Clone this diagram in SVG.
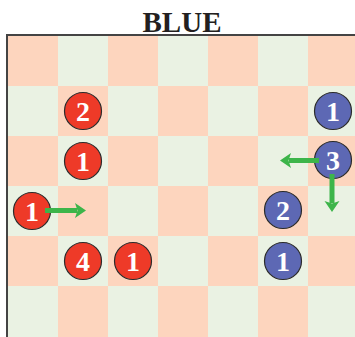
<svg xmlns="http://www.w3.org/2000/svg" width="355" height="337" viewBox="0 0 355 337">
<style>
.pe{fill:#FDD5BE}
.gr{fill:#EAF2E3}
.red{fill:#EE3A28;stroke:#2b2b2b;stroke-width:1.2}
.blue{fill:#5D68B4;stroke:#2b2b2b;stroke-width:1.2}
.num{font-family:"Liberation Serif","Times New Roman",serif;font-weight:bold;font-size:28px;fill:#fff;text-anchor:middle}
.title{font-family:"Liberation Serif","Times New Roman",serif;font-weight:bold;font-size:29px;fill:#231F20;text-anchor:middle}
.arr{stroke:#3DB54A;stroke-width:5;fill:none;marker-end:url(#ah)}
</style>
<defs>
<marker id="ah" markerUnits="userSpaceOnUse" markerWidth="12" markerHeight="16" viewBox="0 -8 12 16" refX="2" refY="0" orient="auto">
<path d="M0,-7.5 L11,0 L0,7.5 L2.5,0 z" fill="#3DB54A"/>
</marker>
</defs>
<rect width="355" height="337" fill="#fff"/>
<text class="title" x="182" y="32">BLUE</text>
<g id="board">
<rect x="8" y="36" width="347" height="301" class="pe"/>
<g class="gr">
<rect x="58" y="36" width="50" height="50"/><rect x="158" y="36" width="50" height="50"/><rect x="258" y="36" width="50" height="50"/>
<rect x="8" y="86" width="50" height="50"/><rect x="108" y="86" width="50" height="50"/><rect x="208" y="86" width="50" height="50"/><rect x="308" y="86" width="50" height="50"/>
<rect x="58" y="136" width="50" height="50"/><rect x="158" y="136" width="50" height="50"/><rect x="258" y="136" width="50" height="50"/>
<rect x="8" y="186" width="50" height="50"/><rect x="108" y="186" width="50" height="50"/><rect x="208" y="186" width="50" height="50"/><rect x="308" y="186" width="50" height="50"/>
<rect x="58" y="236" width="50" height="50"/><rect x="158" y="236" width="50" height="50"/><rect x="258" y="236" width="50" height="50"/>
<rect x="8" y="286" width="50" height="51"/><rect x="108" y="286" width="50" height="51"/><rect x="208" y="286" width="50" height="51"/><rect x="308" y="286" width="50" height="51"/>
</g>
<path d="M7,337 V35 H355" fill="none" stroke="#444" stroke-width="2"/>
</g>
<g id="r1"><circle class="red" cx="83" cy="111" r="18.5"/><text class="num" x="83" y="121">2</text></g>
<g id="r2"><circle class="red" cx="83" cy="161" r="18.5"/><text class="num" x="83" y="171">1</text></g>
<g id="r3"><circle class="red" cx="32" cy="211" r="18.5"/><text class="num" x="32" y="221">1</text></g>
<g id="r4"><circle class="red" cx="83" cy="261" r="18.5"/><text class="num" x="83" y="271">4</text></g>
<g id="r5"><circle class="red" cx="133" cy="261" r="18.5"/><text class="num" x="133" y="271">1</text></g>
<g id="b1"><circle class="blue" cx="333" cy="111" r="18.5"/><text class="num" x="333" y="121">1</text></g>
<g id="b2"><circle class="blue" cx="333" cy="160" r="18.5"/><text class="num" x="333" y="170">3</text></g>
<g id="b3"><circle class="blue" cx="283" cy="210" r="18.5"/><text class="num" x="283" y="220">2</text></g>
<g id="b4"><circle class="blue" cx="283" cy="261" r="18.5"/><text class="num" x="283" y="271">1</text></g>
<g id="connectors">
<line class="arr" x1="45" y1="210.5" x2="77" y2="210.5"/>
<line class="arr" x1="319" y1="160.5" x2="289" y2="160.5"/>
<line class="arr" x1="332" y1="174" x2="332" y2="203"/>
</g>
</svg>
